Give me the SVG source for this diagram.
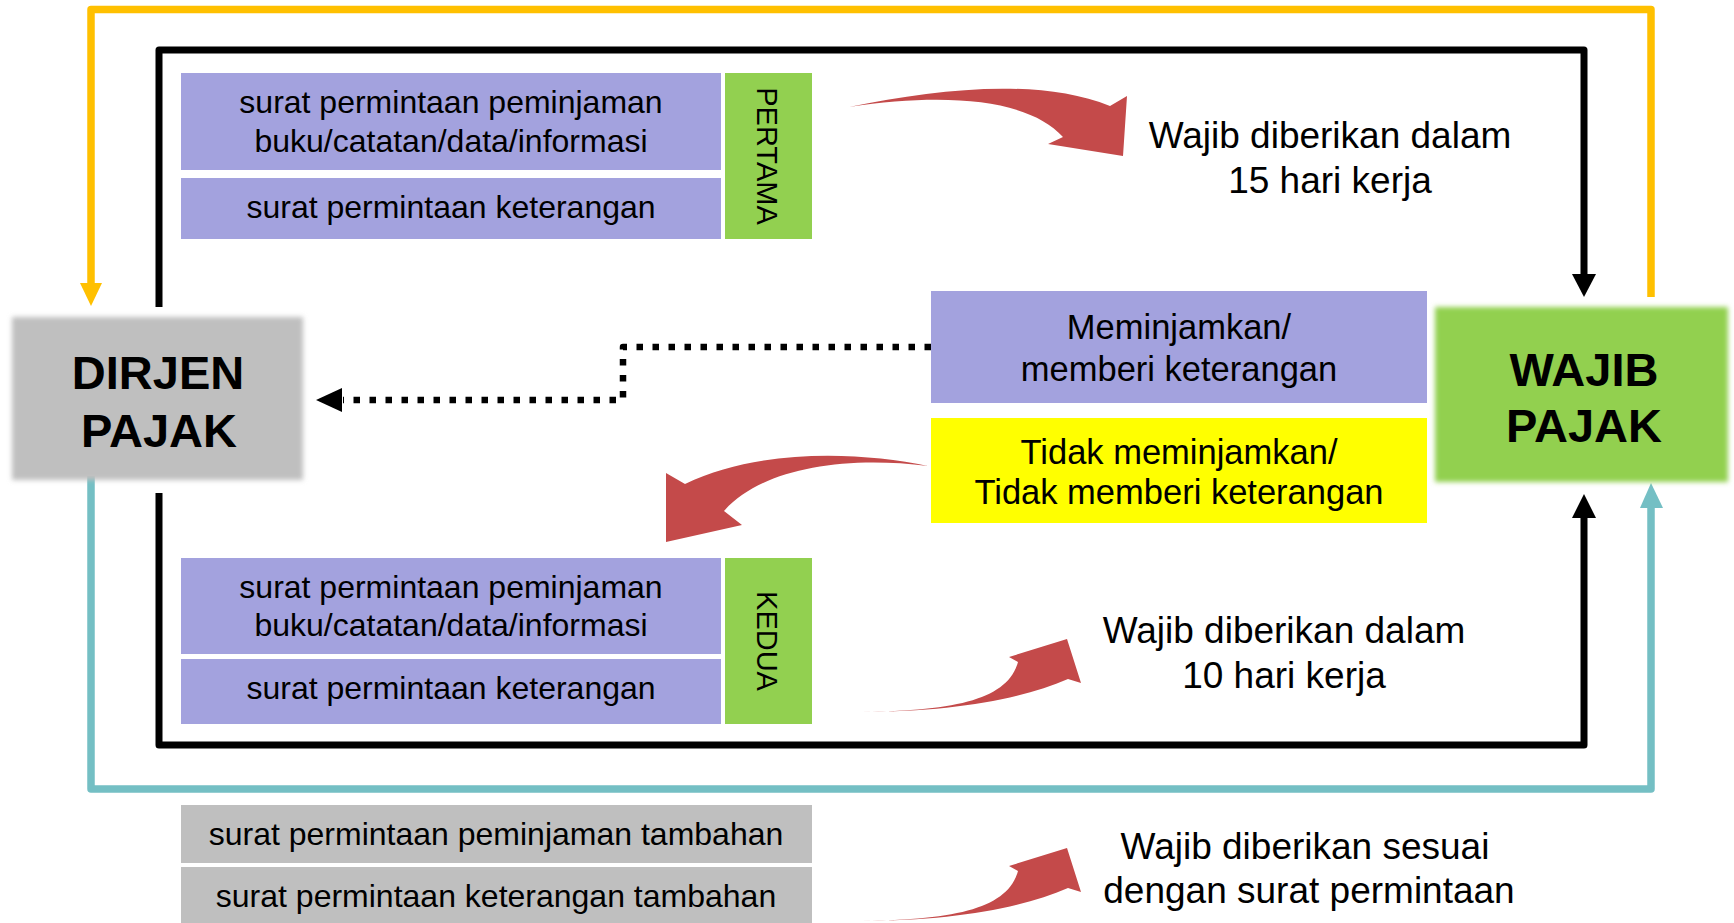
<svg xmlns="http://www.w3.org/2000/svg" width="1734" height="923" viewBox="0 0 1734 923">
  <defs>
    <filter id="soft" x="-10%" y="-10%" width="120%" height="120%">
      <feGaussianBlur stdDeviation="2.5"/>
    </filter>
    <style>
      text { font-family: "Liberation Sans", Arial, sans-serif; fill: #000; }
      .t32 { font-size: 32px; text-anchor: middle; }
      .t34 { font-size: 34.5px; text-anchor: middle; }
      .t37 { font-size: 37px; text-anchor: middle; }
      .big { font-size: 47px; font-weight: bold; text-anchor: middle; }
      .vert { font-size: 29px; text-anchor: middle; }
      .blue { fill: #A3A2DE; }
      .green { fill: #92D050; }
      .gray { fill: #BFBFBF; }
      .yellow { fill: #FFFF00; }
      .red { fill: #C44A4A; }
      .line { fill: none; stroke-linejoin: round; }
      .blk { stroke: #000; stroke-width: 7; }
      .ylw { stroke: #FFC000; stroke-width: 7.5; }
      .teal { stroke: #74BFC4; stroke-width: 7.5; }
      .dot { stroke: #000; stroke-width: 6.5; stroke-dasharray: 6.5 9.5; }
    </style>
  </defs>
  <rect width="1734" height="923" fill="#fff"/>

  <g id="connectors">
    <!-- yellow -->
    <path class="line ylw" d="M1651,297 V9.5 H91 V284"/>
    <polygon points="80,283 102,283 91,306" fill="#FFC000"/>
    <!-- black top -->
    <path class="line blk" d="M159,307 V50 H1584 V276"/>
    <polygon points="1572,274 1596,274 1584,297" fill="#000"/>
    <!-- black bottom -->
    <path class="line blk" d="M159,493 V745 H1584 V516"/>
    <polygon points="1572,518 1596,518 1584,494" fill="#000"/>
    <!-- teal -->
    <path class="line teal" d="M91,476 V789 H1651 V506"/>
    <polygon points="1640,508 1663,508 1651,483" fill="#74BFC4"/>
    <!-- dotted -->
    <path class="line dot" d="M931,347 H623 V400 H343"/>
    <polygon points="316,400 342,388 342,412" fill="#000"/>
    <!-- red curved arrows -->
    <path class="red" d="M849,107 C940,88 1040,78 1110,106 L1127,96 L1123,156 L1048,144 L1063,137 C1030,100 950,92 849,107 Z"/>
    <path class="red" d="M928,466 C860,452 760,448 685,484 L666,473 L666,542 L742,525 L724,511 C760,470 840,455 928,466 Z"/>
    <path class="red" d="M860,712 C950,712 1020,700 1068,679 L1081,683 L1067,639 L1009,657 L1018,662 C1008,698 960,711 860,712 Z"/>
    <path class="red" d="M860,921 C950,921 1020,909 1068,888 L1081,892 L1067,848 L1009,866 L1018,871 C1008,907 960,920 860,921 Z"/>
  </g>

  <g id="dirjen">
    <rect class="gray" x="12" y="317" width="291" height="163" filter="url(#soft)"/>
    <text class="big" x="158" y="389">DIRJEN</text>
    <text class="big" x="159" y="447">PAJAK</text>
  </g>

  <g id="wajib-pajak">
    <rect class="green" x="1435" y="307" width="293" height="175" filter="url(#soft)"/>
    <text class="big" x="1584" y="386">WAJIB</text>
    <text class="big" x="1584" y="442">PAJAK</text>
  </g>

  <g id="pertama-peminjaman">
    <rect class="blue" x="181" y="73" width="540" height="97"/>
    <text class="t32" x="451" y="113">surat permintaan peminjaman</text>
    <text class="t32" x="451" y="152">buku/catatan/data/informasi</text>
  </g>
  <g id="pertama-keterangan">
    <rect class="blue" x="181" y="178" width="540" height="61"/>
    <text class="t32" x="451" y="218">surat permintaan keterangan</text>
  </g>
  <g id="pertama-label">
    <rect class="green" x="725" y="73" width="87" height="166"/>
    <text class="vert" transform="translate(757,156) rotate(90)">PERTAMA</text>
  </g>

  <g id="kedua-peminjaman">
    <rect class="blue" x="181" y="558" width="540" height="96"/>
    <text class="t32" x="451" y="598">surat permintaan peminjaman</text>
    <text class="t32" x="451" y="636">buku/catatan/data/informasi</text>
  </g>
  <g id="kedua-keterangan">
    <rect class="blue" x="181" y="659" width="540" height="65"/>
    <text class="t32" x="451" y="699">surat permintaan keterangan</text>
  </g>
  <g id="kedua-label">
    <rect class="green" x="725" y="558" width="87" height="166"/>
    <text class="vert" transform="translate(757,641) rotate(90)">KEDUA</text>
  </g>

  <g id="tambahan-peminjaman">
    <rect class="gray" x="181" y="805" width="631" height="58"/>
    <text class="t32" x="496" y="845">surat permintaan peminjaman tambahan</text>
  </g>
  <g id="tambahan-keterangan">
    <rect class="gray" x="181" y="867" width="631" height="58"/>
    <text class="t32" x="496" y="907">surat permintaan keterangan tambahan</text>
  </g>

  <g id="meminjamkan">
    <rect class="blue" x="931" y="291" width="496" height="112"/>
    <text class="t34" x="1179" y="339">Meminjamkan/</text>
    <text class="t34" x="1179" y="381">memberi keterangan</text>
  </g>
  <g id="tidak-meminjamkan">
    <rect class="yellow" x="931" y="418" width="496" height="105"/>
    <text class="t34" x="1179" y="464">Tidak meminjamkan/</text>
    <text class="t34" x="1179" y="504">Tidak memberi keterangan</text>
  </g>

  <g id="label-15-hari">
    <text class="t37" x="1330" y="148">Wajib diberikan dalam</text>
    <text class="t37" x="1330" y="193">15 hari kerja</text>
  </g>
  <g id="label-10-hari">
    <text class="t37" x="1284" y="643">Wajib diberikan dalam</text>
    <text class="t37" x="1284" y="688">10 hari kerja</text>
  </g>
  <g id="label-sesuai">
    <text class="t37" x="1305" y="859">Wajib diberikan sesuai</text>
    <text class="t37" x="1309" y="903">dengan surat permintaan</text>
  </g>
</svg>
